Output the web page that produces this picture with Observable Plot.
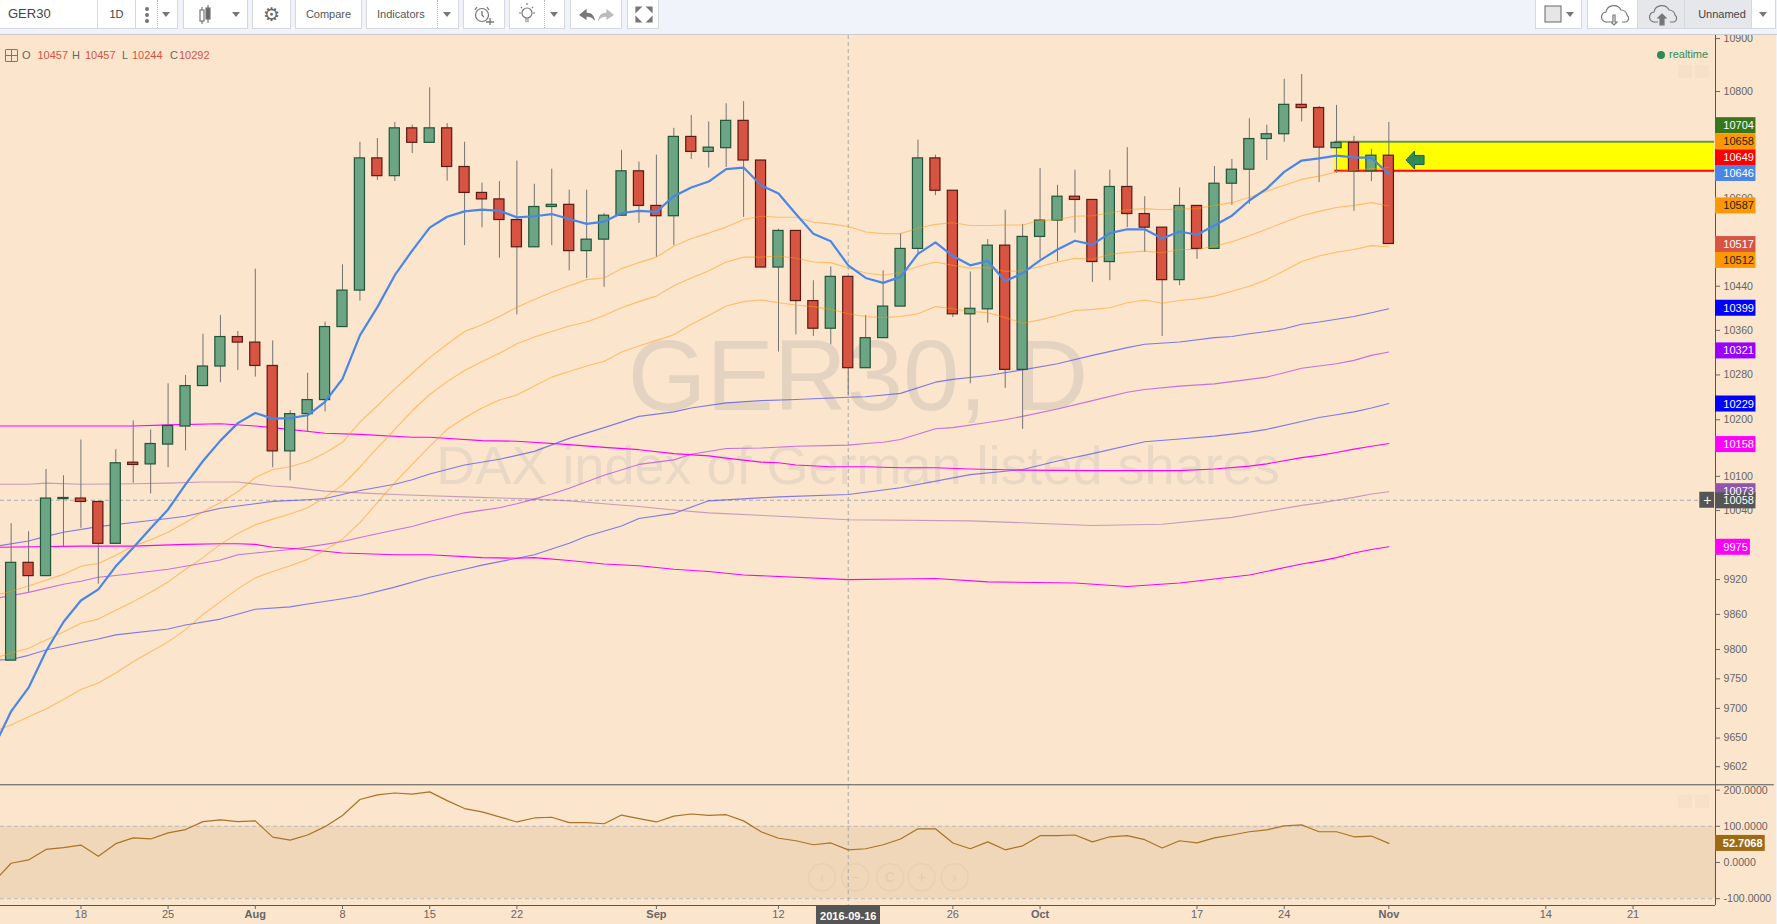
<!DOCTYPE html>
<html><head><meta charset="utf-8">
<script src="https://cdn.jsdelivr.net/npm/d3@7"></script>
<script src="https://cdn.jsdelivr.net/npm/@observablehq/plot@0.6"></script>
<style>
html,body{margin:0;padding:0;background:#fce5cd;overflow:hidden;width:1777px;height:924px;font-family:Arial,"Liberation Sans",sans-serif}
#root{position:relative;width:1777px;height:924px;overflow:hidden}
#root>svg{position:absolute;left:0}
#bar{position:absolute;left:0;top:0;width:1777px;height:35px;background:#f0f3fa;border-bottom:1px solid #c9cbd1;box-sizing:border-box}
.b{position:absolute;top:0;height:29px;background:#fff;border:1px solid #d6d8e0;border-top:none;box-sizing:border-box;color:#555;font-size:11px;line-height:28px;text-align:center}
.b svg{position:absolute;left:0;top:0}
.c{position:absolute;width:0;height:0;border-left:4.5px solid transparent;border-right:4.5px solid transparent;border-top:5px solid #777;top:12px}
.d{position:absolute;top:0;width:0;height:28px;border-left:1px dotted #bbb}
.o{position:absolute;font-size:11px;line-height:14px;white-space:pre}
.f{position:absolute;background:#000;opacity:.018;width:14px;height:13px}
</style></head><body><div id="root"></div>
<script>
// Daily bars, bar index 0 = 2016-07-18, first bar index -4
const barO=[9781,9949,9926,10060,10061,10055,9982,10124,10121,10156,10188,10260,10295,10348,10338,10296,10144,10210,10235,10366,10432,10675,10642,10731,10704,10731,10659,10611,10599,10561,10511,10585,10589,10504,10525,10569,10651,10587,10568,10715,10687,10694,10745,10671,10474,10541,10413,10363,10457,10292,10346,10403,10508,10675,10615,10389,10398,10514,10289,10530,10560,10604,10598,10484,10622,10572,10547,10451,10587,10508,10628,10654,10711,10720,10775,10769,10694,10704,10651,10680];
const barH=[10017,10003,10112,10101,10164,10055,10147,10198,10182,10264,10279,10353,10387,10358,10471,10341,10216,10283,10375,10479,10705,10712,10742,10737,10807,10740,10705,10629,10632,10670,10627,10655,10616,10616,10573,10690,10668,10681,10731,10755,10743,10777,10781,10671,10544,10541,10450,10475,10457,10387,10468,10536,10709,10681,10615,10466,10525,10579,10553,10656,10625,10653,10598,10653,10695,10604,10547,10620,10587,10660,10673,10749,10737,10823,10832,10772,10774,10716,10692,10742];
const barL=[9781,9898,9926,9976,10009,9912,9982,10088,10069,10115,10145,10260,10266,10288,10276,10115,10092,10179,10214,10366,10413,10634,10632,10684,10704,10633,10514,10547,10491,10388,10511,10514,10468,10454,10438,10569,10555,10493,10514,10673,10657,10658,10566,10474,10321,10352,10349,10334,10244,10292,10346,10403,10496,10606,10383,10264,10373,10256,10183,10489,10485,10537,10447,10450,10547,10502,10349,10441,10489,10508,10588,10590,10671,10705,10743,10630,10647,10577,10632,10517];
const barC=[9949,9926,10061,10062,10055,9982,10123,10120,10157,10189,10260,10295,10348,10338,10296,10144,10210,10235,10366,10432,10675,10642,10731,10704,10731,10659,10611,10599,10561,10511,10585,10589,10504,10525,10569,10651,10587,10568,10715,10687,10695,10745,10671,10474,10541,10413,10363,10457,10292,10346,10403,10508,10675,10615,10389,10399,10514,10289,10530,10560,10604,10598,10484,10622,10572,10547,10451,10587,10508,10628,10654,10711,10720,10775,10769,10695,10704,10651,10680,10517];

// Dense series, index -5 ... 75
const emaBlue=[9634,9695,9735,9797,9847,9884,9903,9943,9975,10009,10042,10086,10127,10163,10194,10212,10202,10203,10208,10232,10273,10351,10402,10460,10505,10547,10567,10577,10580,10578,10566,10568,10572,10563,10554,10558,10574,10578,10576,10605,10621,10632,10655,10658,10625,10610,10572,10536,10522,10478,10455,10446,10457,10499,10520,10495,10478,10486,10449,10464,10487,10507,10523,10516,10537,10544,10544,10527,10540,10534,10551,10569,10597,10619,10650,10671,10675,10680,10677,10676,10646];
const orangeA=[9892,9900,9909,9919,9929,9943,9948,9962,9978,9989,10002,10019,10038,10054,10073,10098,10112,10117,10126,10141,10160,10196,10225,10255,10283,10311,10335,10358,10370,10385,10402,10416,10429,10441,10452,10455,10472,10483,10493,10513,10527,10537,10548,10562,10568,10566,10566,10557,10554,10549,10539,10536,10536,10546,10553,10556,10551,10551,10552,10552,10560,10562,10568,10569,10574,10580,10582,10580,10581,10582,10588,10593,10603,10614,10625,10636,10642,10650,10653,10656,10658];
const orangeB=[9785,9794,9802,9816,9830,9845,9852,9867,9882,9898,9916,9938,9958,9981,10000,10015,10025,10034,10045,10063,10085,10116,10150,10183,10216,10245,10268,10288,10304,10319,10336,10348,10358,10368,10375,10387,10401,10412,10422,10441,10455,10468,10484,10493,10493,10495,10491,10484,10483,10473,10464,10460,10465,10476,10484,10478,10473,10474,10467,10468,10476,10484,10491,10489,10498,10502,10504,10501,10507,10507,10513,10521,10532,10544,10557,10569,10577,10584,10588,10593,10587];
const orangeC=[9661,9672,9686,9699,9715,9732,9743,9760,9779,9796,9813,9834,9860,9882,9904,9923,9934,9944,9955,9971,9990,10019,10054,10089,10121,10153,10183,10203,10221,10235,10244,10260,10276,10286,10296,10304,10321,10332,10342,10352,10371,10387,10404,10412,10415,10410,10406,10403,10398,10390,10385,10383,10385,10390,10403,10399,10394,10392,10383,10373,10379,10387,10396,10398,10401,10410,10415,10409,10414,10417,10422,10431,10440,10452,10468,10485,10495,10502,10507,10514,10512];
const cciValues=[-53,-2,7,36,41,48,17,52,68,65,82,91,113,118,113,115,70,62,76,99,130,174,187,192,189,195,171,149,140,126,112,123,125,110,110,107,131,121,112,128,134,130,132,115,85,67,60,49,54,35,38,49,65,93,93,54,38,57,35,46,74,74,76,57,71,74,63,40,60,54,68,76,85,90,101,104,85,85,71,73,52.7068];

// Slow moving averages, read where they bend
const blueHiI=[-5,-3,-2,-1,1,3,5,6,8,10,11,13,14,15,16,18,19,20,22,24,26,28,30,32,34,35,37,39,41,44,45,47,49,50,52,54,56,58,60,61,63,65,66,67,68,69,70,71,73,74,75];
const blueHiV=[9977,9987,9995,10002,10012,10019,10026,10030,10044,10052,10056,10059,10061,10068,10075,10086,10094,10104,10120,10130,10144,10167,10186,10206,10214,10221,10230,10234,10236,10240,10241,10247,10267,10272,10279,10289,10300,10315,10329,10335,10339,10347,10349,10354,10358,10363,10371,10375,10385,10392,10399];
const blueLoI=[-5,-4,-3,-2,0,1,2,5,6,8,10,12,13,15,16,18,20,22,23,25,26,28,29,31,32,34,36,40,44,47,51,54,56,58,61,63,65,67,68,70,71,72,73,74,75];
const blueLoV=[9782,9783,9790,9799,9812,9818,9825,9835,9842,9852,9869,9873,9878,9887,9892,9907,9924,9938,9945,9957,9963,9983,9995,10013,10026,10035,10057,10064,10068,10080,10103,10112,10127,10140,10161,10166,10171,10178,10183,10197,10204,10209,10214,10221,10229];
const violetI=[-5,-3,-1,0,1,2,5,6,8,9,10,12,14,15,16,18,19,20,22,24,25,26,27,28,30,32,34,35,37,39,41,44,45,46,47,49,50,52,53,54,56,58,60,61,63,65,67,68,69,70,72,73,74,75];
const violetV=[9887,9898,9912,9917,9924,9927,9938,9943,9954,9963,9966,9972,9981,9986,9993,10006,10012,10021,10036,10045,10052,10060,10069,10079,10102,10121,10129,10139,10149,10150,10153,10155,10158,10160,10165,10184,10186,10195,10200,10206,10219,10234,10249,10254,10260,10264,10272,10276,10284,10292,10300,10306,10315,10321];
const magentaHiI=[-5,3,5,8,10,11,14,16,19,20,23,25,28,30,32,34,36,37,39,40,41,43,45,47,49,51,54,58,63,65,67,68,70,71,72,73,74,75];
const magentaHiV=[10189,10189,10191,10193,10189,10186,10176,10174,10169,10169,10163,10162,10156,10151,10147,10140,10136,10132,10125,10124,10120,10117,10117,10115,10115,10113,10111,10110,10110,10113,10118,10122,10133,10137,10142,10148,10153,10158];
const magentaLoI=[-5,0,3,6,8,9,10,11,13,15,18,20,23,25,26,28,30,32,34,36,38,44,49,52,57,60,63,67,70,71,72,73,74,75];
const magentaLoV=[9976,9978,9978,9981,9982,9982,9981,9976,9972,9966,9963,9963,9958,9957,9958,9953,9947,9944,9938,9934,9928,9920,9922,9916,9914,9908,9914,9928,9947,9952,9958,9966,9972,9977];
const mauveI=[-5,-3,-2,0,3,5,7,9,11,12,14,16,18,20,22,24,26,28,30,32,34,36,40,44,51,58,62,66,70,71,72,73,74,75];
const mauveV=[10086,10086,10088,10086,10087,10088,10090,10090,10083,10081,10074,10071,10068,10066,10064,10062,10060,10057,10052,10047,10041,10036,10030,10024,10022,10014,10016,10028,10049,10053,10058,10063,10069,10073];

// Axis ticks and price tags
const priceTicks=[10900,10800,10600,10440,10360,10280,10200,10150,10100,10040,9920,9860,9800,9750,9700,9650,9602];
const dayTickI=[0,5,15,20,25,40,50,64,69,84,89];
const dayTickL=["18","25","8","15","22","12","26","17","24","14","21"];
const monthTickI=[10,33,55,75];
const monthTickL=["Aug","Sep","Oct","Nov"];
const tagText=["10704","10658","10649","10646","10587","10517","10512","10399","10321","10229","10158","10073","10058","9975"];
const tagSeat=[10736,10706,10676,10647,10587,10516,10487,10400,10323,10228,10156,10073,10057,9976];
const tagFill=["#38761d","#ff9800","#ff0000","#4a86e8","#ff9800","#d75442","#ff9800","#0000ff","#9900ff","#0000ff","#ff00ff","#8e55ad","#555555","#ff00ff"];
const tagInk=["#fff","#222","#fff","#fff","#222","#fff","#222","#fff","#fff","#fff","#fff","#fff","#fff","#fff"];
const tagEnd=[96.05,96.05,96.05,96.05,96.05,96.05,96.05,96.05,96.05,96.05,96.05,96.05,96.05,95.73];
const navI=[42.5,44.4,46.4,48.2,50.1];
const navL=["‹","−","C","+","›"];
const zoneHigh=10706, zoneLow=10652, zoneStart=71.9;
const crossI=44, crossPrice=10058;
const xMin=-4.61, xMax=93.73;

const bars=barO.map((o,k)=>({i:k-4,o,h:barH[k],l:barL[k],c:barC[k]}));
const dense=a=>a.map((v,k)=>({i:k-5,v}));
const sparse=(I,V)=>I.map((i,k)=>({i,v:V[k]}));
const tags=tagText.map((t,k)=>({t,s:tagSeat[k],f:tagFill[k],ink:tagInk[k],e:tagEnd[k]}));

const font='Arial,"Liberation Sans",sans-serif';
const thin=(d,stroke,opacity)=>Plot.line(d,{x:"i",y:"v",stroke,strokeOpacity:opacity,strokeWidth:1.1,clip:true});
const arrowLeft={draw(c,size){const s=Math.sqrt(size)/2;c.moveTo(-s,0);c.lineTo(-.05*s,-s);c.lineTo(-.05*s,-.5*s);c.lineTo(s,-.5*s);c.lineTo(s,.5*s);c.lineTo(-.05*s,.5*s);c.lineTo(-.05*s,s);c.closePath();}};

const main=Plot.plot({
  width:1777,height:750,marginLeft:0,marginRight:62,marginTop:0,marginBottom:0,
  style:{background:"transparent",fontFamily:font,fontSize:"10.6px",overflow:"visible"},
  x:{domain:[xMin,xMax],range:[0,1715],axis:null},
  y:{type:"log",domain:[9570.6,10905.9],range:[750,0]},
  marks:[
    Plot.text(["GER30, D"],{x:()=>44.56,y:()=>10275,text:d=>d,fontSize:101,fill:"#e3d3c0",textAnchor:"middle",lineAnchor:"middle"}),
    Plot.text(["DAX index of German listed shares"],{x:()=>44.56,y:()=>10117,text:d=>d,fontSize:54,fill:"#e8d8c5",textAnchor:"middle",lineAnchor:"middle"}),
    Plot.ruleX([crossI],{stroke:"#aaa",strokeDasharray:"4,3"}),
    Plot.ruleY([crossPrice],{x1:xMin,x2:xMax,stroke:"#aaa",strokeDasharray:"4,3"}),
    Plot.axisY({anchor:"right",ticks:priceTicks,tickFormat:d=>String(d),tickSize:4,tickPadding:4,color:"#666",label:null}),
    Plot.ruleX([xMax],{stroke:"#555"}),
    Plot.ruleY([9571.8],{x1:xMin,x2:97.1,stroke:"#555"}),
    thin(sparse(blueLoI,blueLoV),"#4a4aee",.7),
    thin(sparse(blueHiI,blueHiV),"#4a4aee",.7),
    thin(sparse(violetI,violetV),"#b040e0",.7),
    thin(sparse(mauveI,mauveV),"#9a5fa8",.55),
    Plot.line(sparse(magentaHiI,magentaHiV),{x:"i",y:"v",stroke:"#ff00ff",strokeWidth:1.1,clip:true}),
    Plot.line(sparse(magentaLoI,magentaLoV),{x:"i",y:"v",stroke:"#ff00ff",strokeWidth:1.1,clip:true}),
    Plot.rect([0],{x1:()=>zoneStart,x2:()=>xMax-.05,y1:()=>zoneLow,y2:()=>zoneHigh,fill:"#ffff00"}),
    Plot.ruleY([zoneHigh],{x1:zoneStart,x2:xMax-.05,stroke:"#6a9a3f",strokeWidth:2}),
    Plot.ruleY([zoneLow],{x1:zoneStart,x2:xMax-.05,stroke:"#ff0000",strokeWidth:2}),
    Plot.ruleX(bars,{x:"i",y1:"l",y2:"h",stroke:"#737375",strokeWidth:1}),
    Plot.rect(bars,{x1:d=>d.i-.29,x2:d=>d.i+.29,y1:"o",y2:"c",fill:d=>d.c>=d.o?"#6ba583":"#d75442",stroke:d=>d.c>=d.o?"#225437":"#5b1a13",strokeWidth:1.2}),
    thin(dense(orangeA),"#ff9800",.5),
    thin(dense(orangeB),"#ff9800",.5),
    thin(dense(orangeC),"#ff9800",.5),
    Plot.line(dense(emaBlue),{x:"i",y:"v",stroke:"#4a86e8",strokeWidth:2.2,clip:true}),
    Plot.dot([0],{x:()=>76.5,y:()=>10672,symbol:arrowLeft,r:10.2,fill:"#2e8b57",stroke:"#1f5f3c",strokeWidth:1}),
    Plot.rect(tags,{x1:()=>xMax,x2:"e",y1:"s",y2:"s",insetTop:-8,insetBottom:-8,fill:"f"}),
    Plot.text(tags,{x:()=>xMax+.45,y:"s",text:"t",fill:"ink",textAnchor:"start",fontSize:11,fontWeight:d=>d.ink==="#fff"?"bold":"normal"}),
    Plot.rect([0],{x1:()=>xMax-.9,x2:()=>xMax-.05,y1:()=>crossPrice,y2:()=>crossPrice,insetTop:-8,insetBottom:-8,fill:"#555"}),
    Plot.text(["+"],{x:()=>xMax-.47,y:()=>crossPrice,text:d=>d,fill:"#fff",fontSize:14})
  ]
});
main.style.top="35px";

const pane=Plot.plot({
  width:1777,height:139,marginLeft:0,marginRight:62,marginTop:0,marginBottom:19,
  style:{background:"transparent",fontFamily:font,fontSize:"10.6px",overflow:"visible"},
  x:{domain:[xMin,xMax],range:[0,1715],axis:null},
  y:{domain:[-118.8,212.7],range:[120,0]},
  marks:[
    Plot.rect([0],{x1:()=>xMin,x2:()=>xMax,y1:()=>-100,y2:()=>100,fill:"#f1d7b9"}),
    Plot.ruleY([100,-100],{x1:xMin,x2:xMax,stroke:"#bbb",strokeDasharray:"4,3"}),
    Plot.ruleX([crossI],{stroke:"#aaa",strokeDasharray:"4,3"}),
    Plot.dot(navI,{x:d=>d,y:()=>-41,r:13.5,stroke:"#e9d0b2",fill:"none"}),
    Plot.text(navL,{x:(d,k)=>navI[k],y:()=>-41,text:d=>d,fill:"#e4cbac",fontSize:14}),
    Plot.axisY({anchor:"right",ticks:[200,100,0,-100],tickFormat:d=>d.toFixed(4),tickSize:4,tickPadding:4,color:"#666",label:null}),
    Plot.ruleX([xMax],{stroke:"#555"}),
    Plot.ruleY([-118.8],{x1:xMin,x2:xMax,stroke:"#555",strokeWidth:1.2}),
    Plot.line(dense(cciValues),{x:"i",y:"v",stroke:"#a87424",strokeWidth:1.2,clip:true}),
    Plot.axisX({anchor:"bottom",ticks:dayTickI,tickFormat:i=>dayTickL[dayTickI.indexOf(i)],tickSize:4,tickPadding:1,color:"#666",label:null,fontSize:11}),
    Plot.axisX({anchor:"bottom",ticks:monthTickI,tickFormat:i=>monthTickL[monthTickI.indexOf(i)],tickSize:4,tickPadding:1,color:"#666",label:null,fontSize:11,fontWeight:"bold"}),
    Plot.rect([0],{x1:()=>42.18,x2:()=>45.85,y1:()=>-120.5,y2:()=>-172,fill:"#555"}),
    Plot.text(["2016-09-16"],{x:()=>crossI,y:()=>-149,text:d=>d,fill:"#fff",fontWeight:"bold",fontSize:11}),
    Plot.rect([0],{x1:()=>xMax,x2:()=>96.58,y1:()=>52.7068,y2:()=>52.7068,insetTop:-8,insetBottom:-8,fill:"#9c6a14"}),
    Plot.text(["52.7068"],{x:()=>xMax+.42,y:()=>52.7068,text:d=>d,fill:"#fff",textAnchor:"start",fontWeight:"bold",fontSize:11})
  ]
});
pane.style.top="785px";

const root=document.getElementById("root");
root.append(main,pane);

// Toolbar and overlays
const caret=x=>`<i class="c" style="left:${x}px"></i>`;
const dot=x=>`<i class="d" style="left:${x}px"></i>`;
const box=(l,w,h,extra="")=>`<div class="b" style="left:${l}px;width:${w}px;${extra}">${h}</div>`;
const sv=(w,inner)=>`<svg width="${w}" height="29" fill="none" stroke="#777" stroke-width="1.2">${inner}</svg>`;
const cloud=`<path d="M13 21h-3a5 5 0 0 1-1-10 8 8 0 0 1 15-2 6 6 0 0 1 6 5 4 4 0 0 1-1 7h-4"/>`;
root.insertAdjacentHTML("beforeend",`
<div id="bar">
${box(-1,99,'<span style="position:absolute;left:8px;font-size:13px;color:#444">GER30</span>')}
${box(97,39,'<span style="color:#444;font-size:11px">1D</span>')}
${box(135,43,sv(43,'<circle cx="11" cy="9" r="1.4" fill="#777"/><circle cx="11" cy="15" r="1.4" fill="#777"/><circle cx="11" cy="21" r="1.4" fill="#777"/>')+dot(21)+caret(26))}
${box(183,65,sv(65,'<rect x="16" y="10" width="4" height="11"/><path d="M18 7v3M18 21v3M24 5v3M24 19v4"/><rect x="22" y="8" width="4" height="11" fill="#666"/>')+caret(48))}
${box(252,39,`<span style="font-family:'DejaVu Sans';font-size:19px;color:#666">⚙</span>`)}
${box(295,67,'Compare')}
${box(366,93,'<span style="position:absolute;left:10px">Indicators</span>'+dot(70)+caret(76))}
${box(463,42,sv(42,'<circle cx="18" cy="15" r="6.5"/><path d="M18 11v4l2 2M13 7l-2 3M23 7l2 3M26 18v7M22 22h8" stroke-width="1.3"/>'))}
${box(509,56,sv(56,'<circle cx="17" cy="13" r="5"/><path d="M15 19h4M15 21h4M17 3v2M9 13h2M23 13h2M11 7l1 1M23 7l-1 1"/>')+dot(34)+caret(40))}
${box(570,52,sv(52,'<path d="M9 15l6-5v3c5 0 7 2 8 6-2-2-4-3-8-3v3z" fill="#777"/><path d="M42 15l-6-5v3c-5 0-7 2-8 6 2-2 4-3 8-3v3z" fill="#bbb" stroke="#bbb"/>'))}
${box(627,32,sv(32,'<path d="M8 7h5l-5 5zM24 7h-5l5 5zM8 22h5l-5-5zM24 22h-5l5-5z" fill="#777"/>'))}
${box(1535,47,'<svg width="47" height="29"><rect x="9" y="6" width="16" height="16" fill="#e6e6e6" stroke="#666"/></svg>'+caret(30))}
${box(1587,51,sv(51,'<g transform="translate(9 1)">'+cloud+'<path d="M16 14v7h-2l3 3 3-3h-2v-7z"/></g>'))}
${box(1637,48,sv(48,'<g transform="translate(7 1)">'+cloud+'<path d="M13 17l4-4 4 4h-2v7h-4v-7z" fill="#777"/></g>'),'background:#e6e7ea')}
${box(1684,68,'Unnamed','background:#e6e7ea;color:#444;padding-left:8px')}
${box(1751,25,caret(7))}
</div>
<div style="position:absolute;left:5px;top:49px;width:11px;height:11px;border:1px solid #777;border-radius:1px"></div>
<div style="position:absolute;left:6px;top:54.5px;width:11px;height:1px;background:#777"></div>
<div style="position:absolute;left:10.5px;top:50px;width:1px;height:11px;background:#777"></div>
<div class="o" style="left:22px;top:48px;color:#666">O</div><div class="o" style="left:37.5px;top:48px;color:#d75442">10457</div>
<div class="o" style="left:72px;top:48px;color:#666">H</div><div class="o" style="left:85px;top:48px;color:#d75442">10457</div>
<div class="o" style="left:122px;top:48px;color:#666">L</div><div class="o" style="left:132px;top:48px;color:#d75442">10244</div>
<div class="o" style="left:170px;top:48px;color:#666">C</div><div class="o" style="left:179px;top:48px;color:#d75442">10292</div>
<div style="position:absolute;left:1657px;top:51px;width:8px;height:8px;border-radius:50%;background:#2e8b57"></div>
<div class="o" style="left:1669px;top:47px;color:#2e8b57">realtime</div>
<div class="f" style="left:1678px;top:65px"></div><div class="f" style="left:1695px;top:65px"></div>
<div class="f" style="left:1678px;top:795px"></div><div class="f" style="left:1695px;top:795px"></div>
<div style="position:absolute;left:1776px;top:35px;width:1px;height:889px;background:#f0f3fa"></div>
`);
</script></body></html>
